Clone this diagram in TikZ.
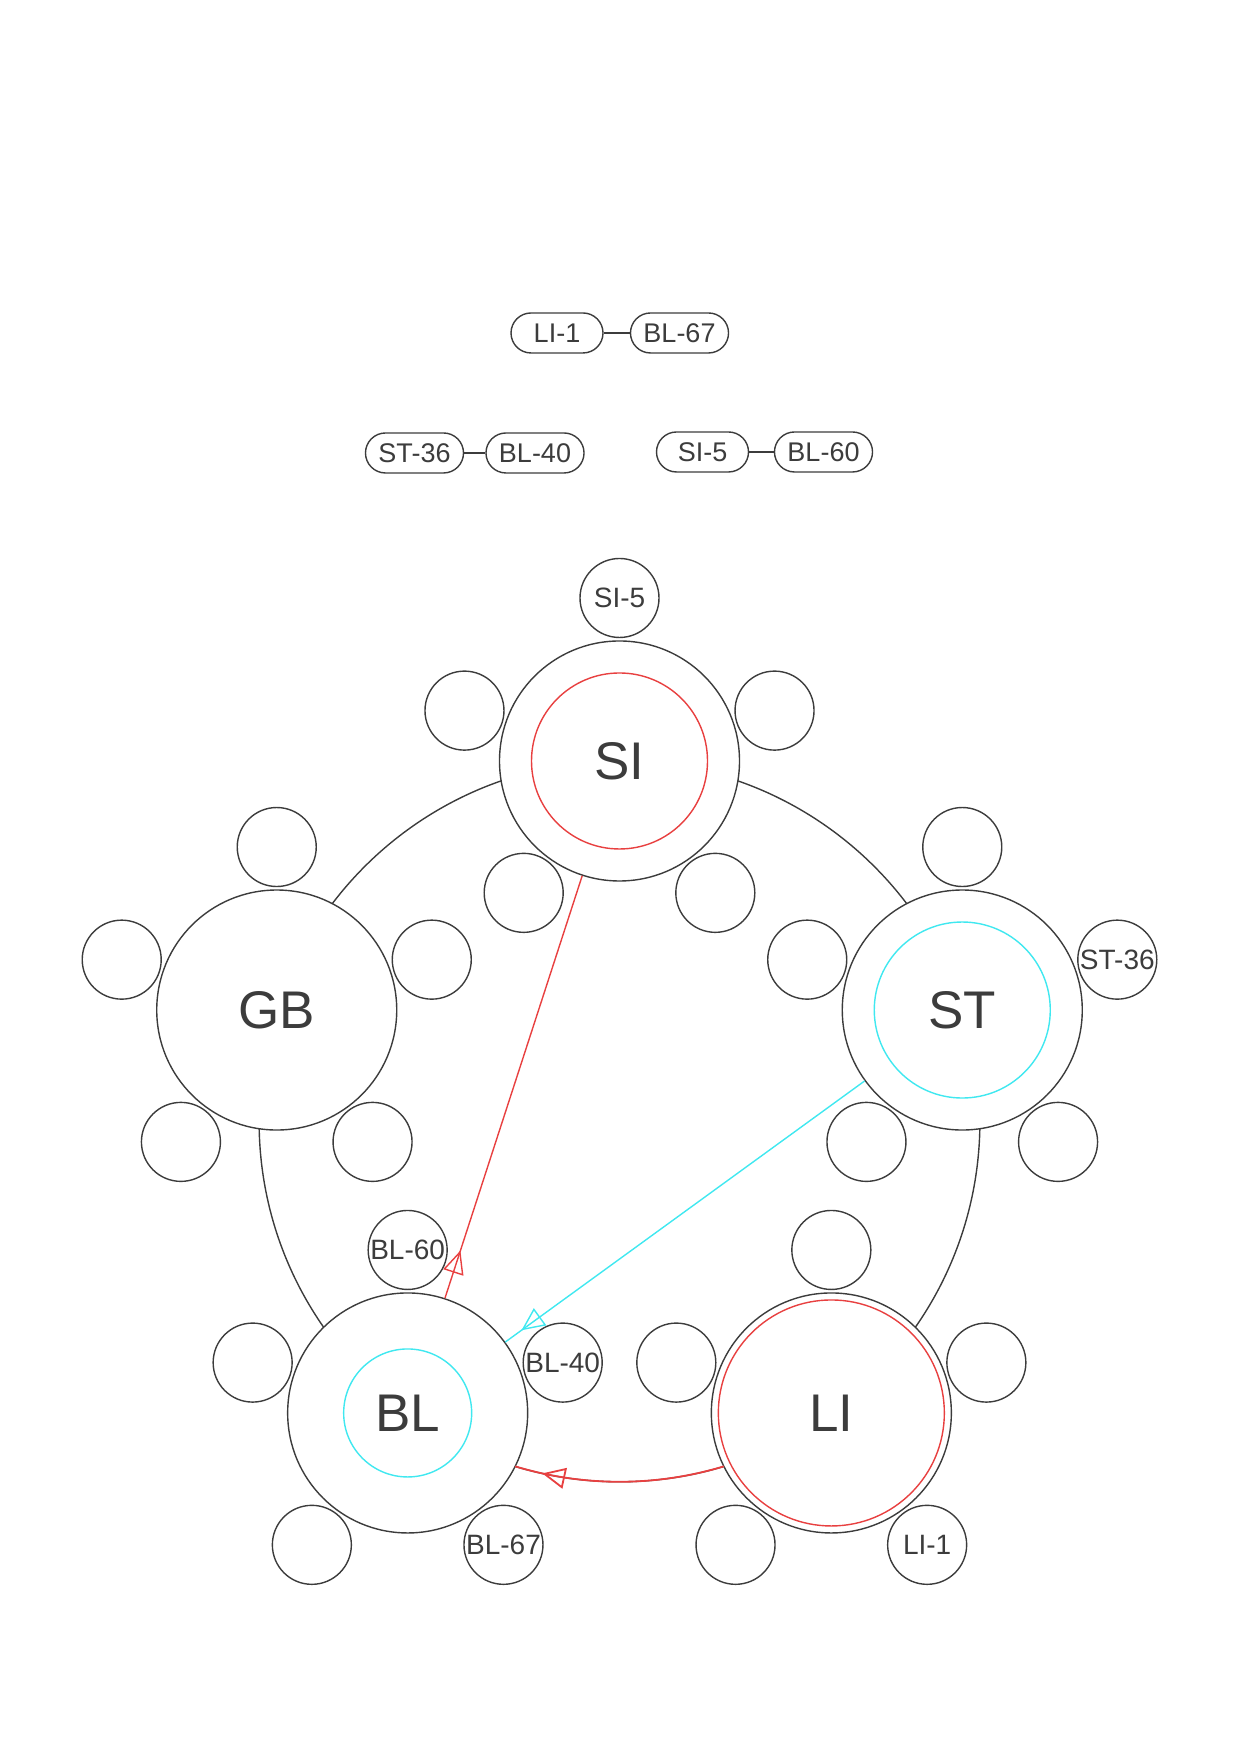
\documentclass[tikz,border=0pt]{standalone}
\usepackage{fontspec}
\setmainfont{Liberation Sans}
\usetikzlibrary{calc,arrows.meta,decorations.markings}
\definecolor{ink}{RGB}{60,60,60}
\definecolor{redline}{RGB}{232,64,64}
\definecolor{cyanline}{RGB}{64,232,240}
\tikzset{
  tablebox/.style={circle,draw=ink,fill=white,line width=0.7pt,minimum size=120pt,inner sep=0pt,text=ink,font=\fontsize{26.5}{30}\selectfont},
  seat/.style={circle,draw=ink,fill=white,line width=0.7pt,minimum size=39.5pt,inner sep=0pt},
  seattext/.style={text=ink,inner sep=0pt,font=\fontsize{14}{16}\selectfont},
  pill/.style={draw=ink,rounded corners=10pt,line width=0.7pt,minimum height=20pt,minimum width=46pt,inner xsep=6.5pt,text=ink,font=\fontsize{13.5}{15}\selectfont},
  arrowat/.style={postaction={decorate},decoration={markings,mark=at position #1 with {\arrow{Triangle[open,length=11.5pt,width=10.5pt]}}}}
}
\begin{document}
\begin{tikzpicture}[x=0.5pt,y=0.5pt]
\useasboundingbox (0,0) rectangle (1240,1754);
% pairs
\node[pill] (p1a) at (557,1421) {LI-1};
\node[pill] (p1b) at (679.5,1421) {BL-67};
\node[pill] (p2a) at (414.5,1301) {ST-36};
\node[pill] (p2b) at (535,1301) {BL-40};
\node[pill] (p3a) at (702.5,1302) {SI-5};
\node[pill] (p3b) at (823.5,1302) {BL-60};
\draw[ink,line width=0.7pt] (p1a)--(p1b) (p2a)--(p2b) (p3a)--(p3b);
% room
\coordinate (ring) at (619.5,632.6);
\draw[ink,line width=0.7pt] (ring) circle (360.4);
\foreach \t/\a in {SI/90,GB/162,BL/234,LI/306,ST/18}
  \node[tablebox] (\t) at ($(ring)+(\a:360.4)$) {\t};
\foreach \t in {SI,GB,ST,BL,LI}
  \foreach \b in {90,162,18,234,306}
    \node[seat] (\t-\b) at ($(\t)+(\b:163)$) {};
\node[seattext] at (SI-90) {SI-5};
\node[seattext] at (ST-18) {ST-36};
\node[seattext] at (BL-90) {BL-60};
\node[seattext] at (BL-18) {BL-40};
\node[seattext] at (BL-306) {BL-67};
\node[seattext] at (LI-306) {LI-1};
% marks
\draw[redline,line width=0.7pt] (SI) circle (88);
\draw[cyanline,line width=0.7pt] (ST) circle (88);
\draw[cyanline,line width=0.7pt] (BL) circle (64);
\draw[redline,line width=0.7pt] (LI) circle (113);
\draw[redline,line width=0.7pt,arrowat=25pt] (BL)--(SI);
\draw[cyanline,line width=0.7pt,arrowat=-10pt] (ST)--(BL);
\coordinate (LIout) at ($(ring)+(286.83:360.4)$);
\draw[redline,line width=0.9pt,arrowat=-14pt] (LIout) arc[start angle=286.83,end angle=253.17,radius=360.4];
\end{tikzpicture}
\end{document}
